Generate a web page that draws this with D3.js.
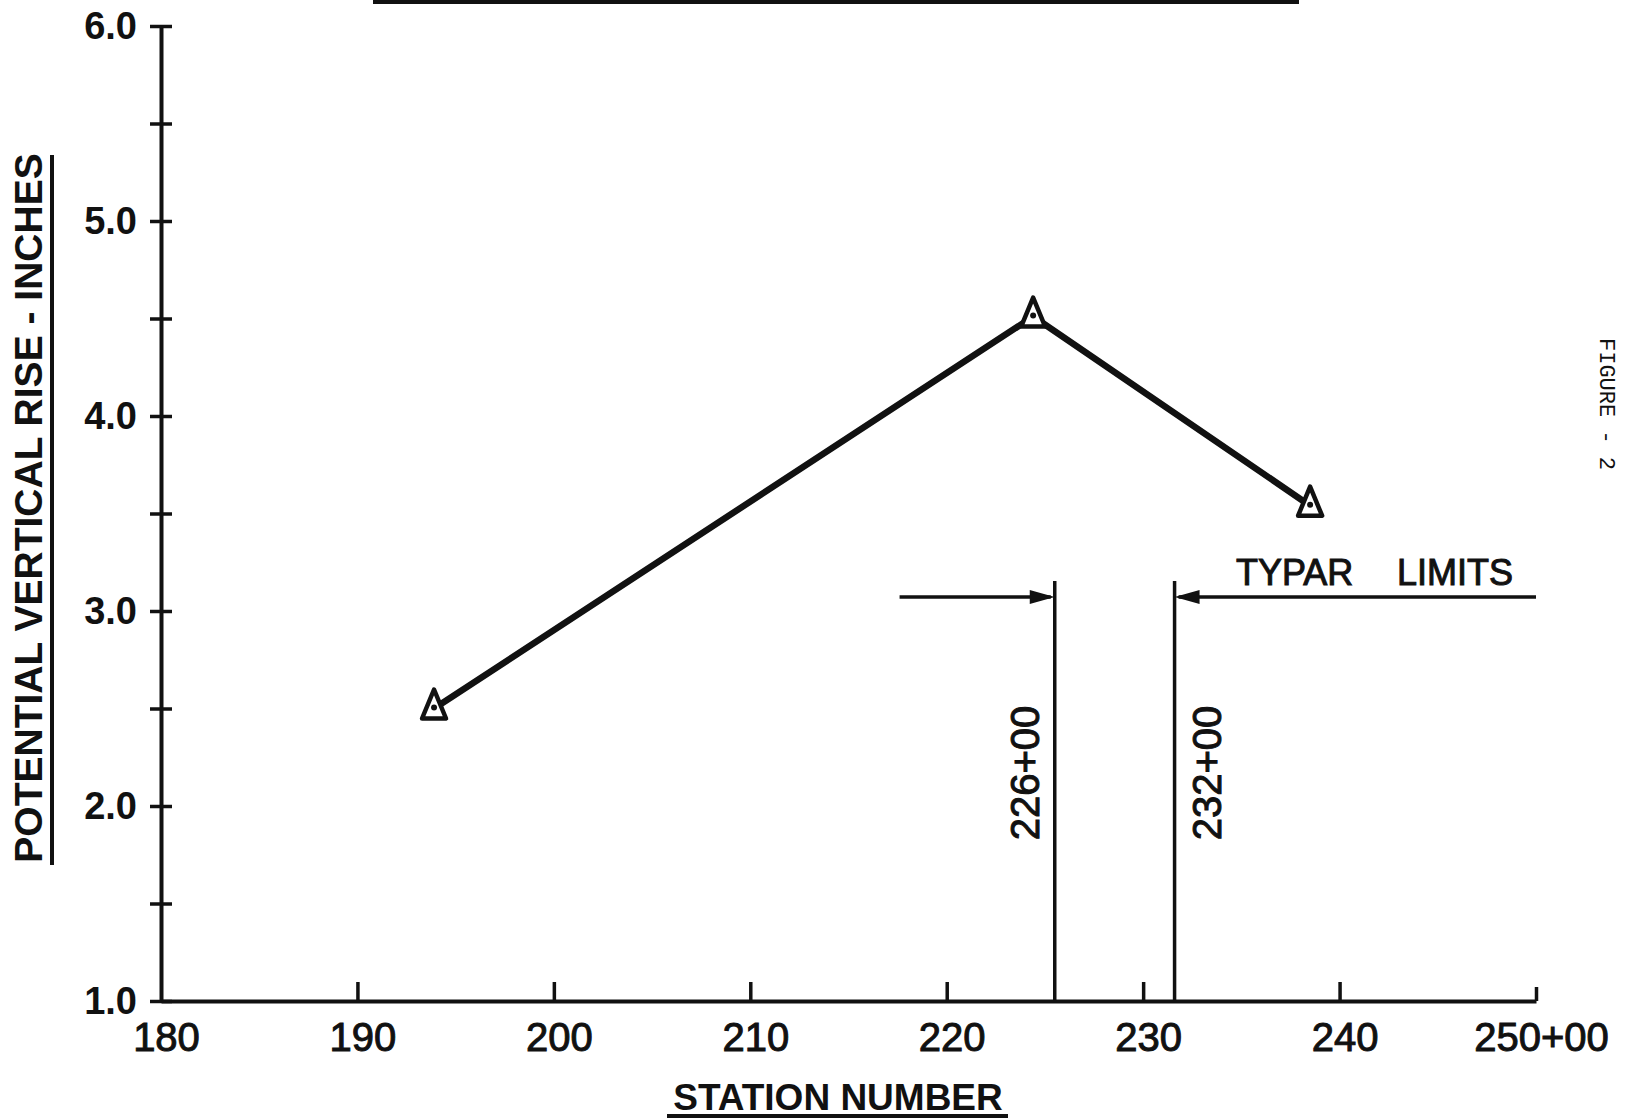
<!DOCTYPE html>
<html>
<head>
<meta charset="utf-8">
<script src="https://cdn.jsdelivr.net/npm/d3@7"></script>
<style>
  html, body { margin: 0; padding: 0; background: #fff; }
  svg { display: block; }
</style>
</head>
<body>
<svg id="chart" width="1627" height="1119"></svg>
<script>
// ── data ──
const stations = [193.9, 224.4, 238.5];      // station number (hundreds of ft)
const rise = [2.5, 4.51, 3.54];              // potential vertical rise, inches
const xTicks = [180, 190, 200, 210, 220, 230, 240, 250];
const yTicks = [1, 2, 3, 4, 5, 6];
const yMinorTicks = [1.5, 2.5, 3.5, 4.5, 5.5];
const limitStations = [225.5, 231.6];
const limitLabels = ["226+00", "232+00"];

const svg = d3.select("#chart");
const ink = "#111";
const sans = "'Liberation Sans', Arial, sans-serif";

// ── scales ──
const x = d3.scaleLinear().domain([180, 250]).range([161, 1536]);
const y = d3.scaleLinear().domain([1, 6]).range([1001, 26]);

// ── y axis ──
const yAxis = svg.append("g")
  .attr("transform", `translate(${x(180)},0)`)
  .call(d3.axisLeft(y)
    .tickValues(yTicks.concat(yMinorTicks))
    .tickSizeOuter(0)
    .tickSizeInner(10)
    .tickPadding(14)
    .tickFormat(d => Number.isInteger(d) ? d3.format(".1f")(d) : ""));

yAxis.select(".domain").attr("stroke", ink).attr("stroke-width", 4);
yAxis.selectAll(".tick line")
  .attr("x1", 11).attr("x2", -11)
  .attr("stroke", ink).attr("stroke-width", 3.5);
yAxis.selectAll(".tick text")
  .attr("fill", ink)
  .attr("font-family", sans)
  .attr("font-weight", "bold")
  .attr("font-size", 38);

// ── x axis ──
const xAxis = svg.append("g")
  .attr("transform", `translate(0,${y(1)})`)
  .call(d3.axisBottom(x)
    .tickValues(xTicks)
    .tickSizeOuter(0)
    .tickSizeInner(-19)
    .tickPadding(22)
    .tickFormat(d => d === 250 ? "250+00" : d));

xAxis.select(".domain").attr("stroke", ink).attr("stroke-width", 4);
xAxis.selectAll(".tick line")
  .attr("stroke", ink).attr("stroke-width", 3.5)
  .attr("y2", d => d === 180 ? 0 : (d === 250 ? -14 : -19));
xAxis.selectAll(".tick text")
  .attr("fill", ink)
  .attr("font-family", sans)
  .attr("font-size", 40)
  .attr("stroke", ink)
  .attr("stroke-width", 1)
  .attr("dx", 5);

// ── axis titles ──
svg.append("text")
  .attr("x", 838).attr("y", 1110)
  .attr("text-anchor", "middle")
  .attr("font-family", sans).attr("font-weight", "bold").attr("font-size", 37)
  .attr("fill", ink)
  .text("STATION NUMBER");
svg.append("line")
  .attr("x1", 667).attr("x2", 1008).attr("y1", 1116).attr("y2", 1116)
  .attr("stroke", ink).attr("stroke-width", 4);

svg.append("text")
  .attr("transform", "translate(42,508) rotate(-90)")
  .attr("text-anchor", "middle")
  .attr("font-family", sans).attr("font-weight", "bold").attr("font-size", 39)
  .attr("fill", ink)
  .text("POTENTIAL VERTICAL RISE - INCHES");
svg.append("line")
  .attr("x1", 52).attr("x2", 52).attr("y1", 155).attr("y2", 865)
  .attr("stroke", ink).attr("stroke-width", 4);

// rule left over from the cut-off title above the chart
svg.append("line")
  .attr("x1", 373).attr("x2", 1299).attr("y1", 2).attr("y2", 2)
  .attr("stroke", ink).attr("stroke-width", 4);

// ── typar limits ──
const limTop = 581;
const arrowY = 597;

svg.selectAll(".limit")
  .data(limitStations)
  .enter().append("line")
  .attr("class", "limit")
  .attr("x1", d => x(d)).attr("x2", d => x(d))
  .attr("y1", limTop).attr("y2", y(1))
  .attr("stroke", ink).attr("stroke-width", 3.5);

// left arrow -> 226+00, right arrow -> 232+00
const arrows = [
  { from: 217.6, to: limitStations[0] },
  { from: 250, to: limitStations[1] }
];
arrows.forEach(a => {
  const x0 = x(a.from), x1 = x(a.to);
  const dir = Math.sign(x1 - x0);
  svg.append("line")
    .attr("x1", x0).attr("x2", x1 - dir * 4)
    .attr("y1", arrowY).attr("y2", arrowY)
    .attr("stroke", ink).attr("stroke-width", 3.5);
  svg.append("path")
    .attr("d", `M${x1},${arrowY} L${x1 - dir * 25},${arrowY - 7} L${x1 - dir * 25},${arrowY + 7} Z`)
    .attr("fill", ink);
});

svg.selectAll(".limit-label")
  .data(limitLabels)
  .enter().append("text")
  .attr("class", "limit-label")
  .attr("transform", (d, i) => {
    const bx = i === 0 ? x(limitStations[0]) - 16 : x(limitStations[1]) + 46;
    return `translate(${bx},773) rotate(-90)`;
  })
  .attr("text-anchor", "middle")
  .attr("font-family", sans).attr("font-size", 40)
  .attr("fill", ink).attr("stroke", ink).attr("stroke-width", 1)
  .text(d => d);

svg.append("text")
  .attr("x", 1236).attr("y", 585)
  .attr("font-family", sans).attr("font-size", 36)
  .attr("fill", ink).attr("stroke", ink).attr("stroke-width", 1)
  .text("TYPAR");
svg.append("text")
  .attr("x", 1513).attr("y", 585)
  .attr("text-anchor", "end")
  .attr("font-family", sans).attr("font-size", 36)
  .attr("fill", ink).attr("stroke", ink).attr("stroke-width", 1)
  .text("LIMITS");

// ── data line with triangle markers ──
const pts = stations.map((s, i) => ({ s, r: rise[i] }));

svg.append("path")
  .datum(pts)
  .attr("fill", "none")
  .attr("stroke", ink)
  .attr("stroke-width", 6.5)
  .attr("stroke-linejoin", "round")
  .attr("d", d3.line().x(d => x(d.s)).y(d => y(d.r)));

const marks = svg.selectAll(".mark")
  .data(pts)
  .enter().append("g")
  .attr("class", "mark")
  .attr("transform", d => `translate(${x(d.s)},${y(d.r)})`);

marks.append("path")
  .attr("d", "M0,-19 L12,10 L-12,10 Z")
  .attr("fill", "#fff")
  .attr("stroke", ink)
  .attr("stroke-width", 4.5)
  .attr("stroke-linejoin", "round");
marks.append("circle")
  .attr("r", 3)
  .attr("cy", -1)
  .attr("fill", ink);

// ── side caption ──
svg.append("text")
  .attr("transform", "translate(1600,338) rotate(90)")
  .attr("font-family", "'Liberation Mono', 'Courier New', monospace")
  .attr("font-size", 22)
  .attr("fill", ink)
  .text("FIGURE - 2");
</script>
</body>
</html>
